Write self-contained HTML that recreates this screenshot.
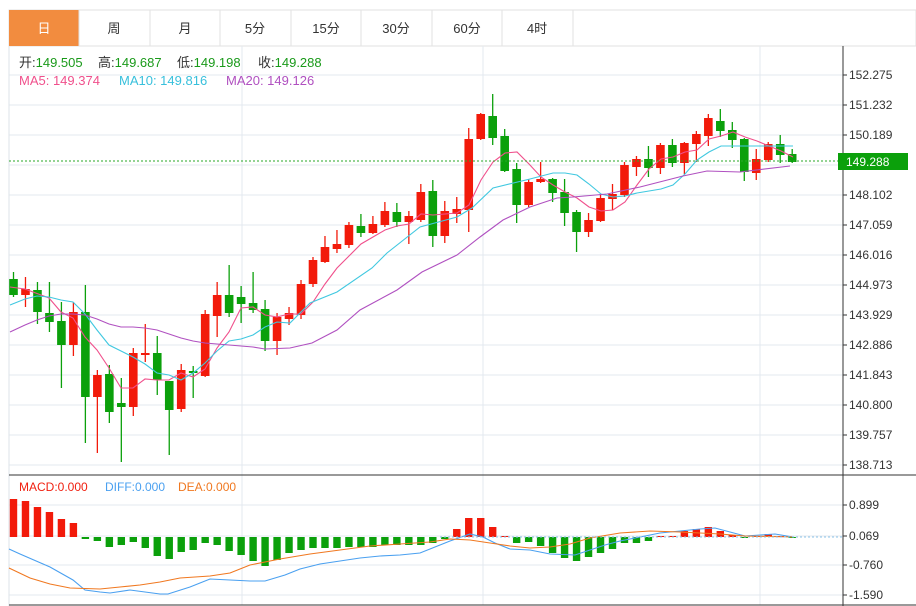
<!DOCTYPE html>
<html><head><meta charset="utf-8"><style>
body{margin:0;background:#fff;width:916px;height:606px;overflow:hidden;font-family:"Liberation Sans","Noto Sans CJK SC",sans-serif;}
svg{position:absolute;left:0;top:0}
</style></head><body>
<svg id="s" width="916" height="606" xmlns="http://www.w3.org/2000/svg" font-family="Liberation Sans, Noto Sans CJK SC, sans-serif">
<rect x="9" y="10" width="907" height="36" fill="#fff" stroke="#e2e2e2"/>
<rect x="9" y="10" width="70" height="36" fill="#f28c3f"/>
<g stroke="#e2e2e2"><line x1="79" y1="10" x2="79" y2="46"/><line x1="150" y1="10" x2="150" y2="46"/><line x1="220" y1="10" x2="220" y2="46"/><line x1="291" y1="10" x2="291" y2="46"/><line x1="361" y1="10" x2="361" y2="46"/><line x1="432" y1="10" x2="432" y2="46"/><line x1="502" y1="10" x2="502" y2="46"/><line x1="573" y1="10" x2="573" y2="46"/></g>
<g font-size="13" text-anchor="middle" fill="#333">
<text x="44" y="33" fill="#fff">日</text><text x="114" y="33">周</text><text x="185" y="33">月</text><text x="255" y="33">5分</text><text x="326" y="33">15分</text><text x="396" y="33">30分</text><text x="467" y="33">60分</text><text x="537" y="33">4时</text></g>
<g id="grid" stroke="#e3e9ef" stroke-width="1"></g>
<line x1="9" y1="46" x2="9" y2="606" stroke="#dde3ea"/>
<line x1="843" y1="46" x2="843" y2="606" stroke="#333"/>
<line x1="9" y1="475" x2="916" y2="475" stroke="#333"/>
<line x1="9" y1="605" x2="916" y2="605" stroke="#333"/>
<g id="ax" font-size="12" fill="#333"></g>
<g id="chart"></g>
<line x1="9" y1="161" x2="838" y2="161" stroke="#2aa82a" stroke-dasharray="2,2"/>
<rect x="838" y="153" width="70" height="17" fill="#0ba00b"/>
<text x="846" y="166" font-size="12" fill="#fff">149.288</text>
<line x1="440" y1="537" x2="843" y2="537" stroke="#8cc4e8" stroke-dasharray="2,2"/>
<g font-size="13">
<text x="19" y="67" fill="#333">开:<tspan fill="#1a9a1a">149.505</tspan></text>
<text x="98" y="67" fill="#333">高:<tspan fill="#1a9a1a">149.687</tspan></text>
<text x="177" y="67" fill="#333">低:<tspan fill="#1a9a1a">149.198</tspan></text>
<text x="258" y="67" fill="#333">收:<tspan fill="#1a9a1a">149.288</tspan></text>
<text x="19" y="85" fill="#f0508c">MA5: 149.374</text>
<text x="119" y="85" fill="#38c0dc">MA10: 149.816</text>
<text x="226" y="85" fill="#b050c0">MA20: 149.126</text>
</g>
<g font-size="12">
<text x="19" y="491" fill="#f02010">MACD:0.000</text>
<text x="105" y="491" fill="#4aa0f0">DIFF:0.000</text>
<text x="178" y="491" fill="#f07820">DEA:0.000</text>
</g>
</svg>
<script>
var NS="http://www.w3.org/2000/svg",s=document.getElementById('s');
function el(p,t,a){var e=document.createElementNS(NS,t);for(var k in a)e.setAttribute(k,a[k]);p.appendChild(e);return e;}
var g=document.getElementById('grid'),ax=document.getElementById('ax'),ch=document.getElementById('chart');
var pl=["152.275","151.232","150.189","149.146","148.102","147.059","146.016","144.973","143.929","142.886","141.843","140.800","139.757","138.713"];
for(var i=0;i<14;i++){var y=75+i*30;el(g,'line',{x1:9,x2:843,y1:y,y2:y});el(ax,'line',{x1:843,x2:847,y1:y,y2:y,stroke:'#333'});if(i!=3){var t=el(ax,'text',{x:849,y:y+4});t.textContent=pl[i];}}
var ml=[[505,"0.899"],[536,"0.069"],[565,"-0.760"],[595,"-1.590"]];
ml.forEach(function(m){el(g,'line',{x1:9,x2:843,y1:m[0],y2:m[0]});el(ax,'line',{x1:843,x2:847,y1:m[0],y2:m[0],stroke:'#333'});var t=el(ax,'text',{x:849,y:m[0]+4});t.textContent=m[1];});
[242,483,760].forEach(function(x){el(g,'line',{x1:x,x2:x,y1:46,y2:605});});
var C=[[279,295,272,297],[295,289,277,307],[290,312,282,324],[313,322,282,332],[321,345,302,388],[345,312,302,356],[312,397,285,443],[397,375,370,453],[374,412,365,423],[403,407,378,462],[407,353,348,416],[355,353,324,362],[353,380,336,395],[381,410,381,455],[409,370,364,412],[371,373,366,398],[376,314,310,377],[316,295,282,337],[295,313,265,317],[297,304,286,323],[303,310,272,313],[309,341,300,351],[341,317,313,355],[319,313,307,325],[315,284,280,319],[284,260,257,287],[262,247,236,263],[249,244,230,253],[245,225,222,248],[226,233,214,237],[233,224,216,234],[225,211,202,227],[212,222,203,227],[222,216,211,244],[220,192,184,222],[191,236,180,247],[236,211,201,243],[214,209,197,223],[210,139,128,232],[139,114,113,140],[116,138,94,145],[136,171,129,172],[169,205,163,223],[205,182,179,207],[182,179,162,183],[179,193,178,202],[192,213,179,226],[212,232,210,252],[232,220,213,237],[221,198,194,222],[199,194,184,210],[195,165,162,197],[167,159,156,176],[159,168,146,177],[168,145,143,174],[145,163,139,167],[163,143,142,174],[144,134,131,162],[136,118,114,146],[121,131,109,137],[130,140,122,148],[139,172,138,181],[173,159,149,180],[160,144,142,162],[144,155,135,163],[154,162,149,163]];
function X(i){return 13.5+i*11.98;}
var R="#f21a0a",G="#0ba00b";
C.forEach(function(c,i){var x=X(i),up=c[1]<c[0],col=up?R:G;
el(ch,'line',{x1:x,x2:x,y1:c[2],y2:c[3],stroke:col,'stroke-width':1.3});
var t=Math.min(c[0],c[1]),h=Math.max(2,Math.abs(c[0]-c[1]));el(ch,'rect',{x:x-4.3,y:t,width:8.6,height:h,fill:col});});
function line(pts,col){el(ch,'polyline',{points:pts.map(function(p){return p.join(',')}).join(' '),fill:'none',stroke:col,'stroke-width':1.1});}
line([[10,287],[25,289],[49,298],[61,312],[73,318],[85,337],[97,350],[109,368],[121,388],[133,388],[145,379],[157,380],[169,380],[181,373],[193,377],[205,369],[217,348],[229,332],[241,308],[253,307],[265,315],[277,317],[289,314],[301,314],[313,302],[325,284],[337,268],[349,256],[361,244],[373,237],[385,230],[397,226],[409,224],[421,214],[433,215],[445,214],[457,213],[469,205],[481,180],[493,162],[505,153],[517,152],[529,164],[541,177],[553,185],[565,192],[577,198],[589,207],[601,211],[613,210],[625,202],[637,185],[649,169],[661,159],[673,157],[685,152],[697,150],[709,139],[721,136],[733,132],[745,137],[757,141],[769,146],[781,151],[793,157]],"#f0508c");
line([[10,305],[25,299],[37,296],[49,297],[61,300],[73,302],[85,314],[97,330],[109,345],[121,351],[133,357],[145,364],[157,373],[169,375],[181,380],[193,373],[205,363],[217,351],[229,341],[241,339],[253,335],[265,327],[277,322],[290,323],[310,303],[337,292],[372,268],[387,253],[420,227],[457,217],[472,208],[493,188],[530,179],[553,173],[565,173],[577,175],[589,184],[601,194],[613,197],[625,196],[637,193],[649,191],[661,189],[673,185],[685,174],[697,160],[709,152],[721,146],[793,146]],"#40c8e0");
line([[10,332],[25,325],[37,320],[49,316],[61,314],[73,314],[85,315],[97,319],[109,324],[121,327],[133,327],[145,328],[157,330],[169,334],[181,338],[193,341],[205,343],[217,344],[229,345],[241,346],[253,347],[265,349],[290,348],[312,343],[337,330],[360,310],[397,290],[422,272],[457,255],[480,237],[503,220],[530,207],[557,198],[573,197],[607,194],[640,187],[683,176],[707,171],[740,172],[790,166]],"#b050c0");
var M=[499,501,507,512,519,523,539,541,547,545,542,548,556,559,552,550,543,545,551,555,561,566,560,553,550,548,548,548,547,547,547,545,545,545,545,543,539,529,518,518,527,536,543,542,546,553,558,561,557,553,549,543,543,541,536,536,531,529,527,531,535,538,536,534,536,537];
M.forEach(function(y,i){var x=X(i);var col=y<537?R:G;var t=Math.min(y,537),h=Math.max(1,Math.abs(y-537));el(ch,'rect',{x:x-3.7,y:t,width:7.4,height:h,fill:col});});
line([[9,549],[20,554],[50,567],[73,580],[85,590],[100,592],[110,593],[130,590],[145,592],[160,594],[168,594],[190,587],[200,583],[210,579],[230,580],[250,581],[265,581],[285,575],[300,569],[320,564],[340,561],[360,558],[380,556],[400,555],[420,553],[435,547],[450,541],[470,534],[483,537],[495,543],[510,549],[530,550],[550,554],[575,555],[590,550],[605,545],[620,541],[640,537],[660,533],[680,531],[700,529],[715,528],[730,532],[745,536],[760,535],[775,534],[793,537]],"#4aa0f0");
line([[9,568],[30,578],[50,584],[70,588],[100,589],[120,587],[140,585],[160,582],[180,578],[210,576],[230,573],[250,565],[280,559],[310,554],[340,550],[370,546],[400,544],[430,542],[450,539],[470,540],[490,543],[510,546],[530,548],[550,547],[570,544],[590,538],[620,533],[650,531],[680,532],[720,534],[745,536],[793,537]],"#f07820");
</script>
</body></html>
